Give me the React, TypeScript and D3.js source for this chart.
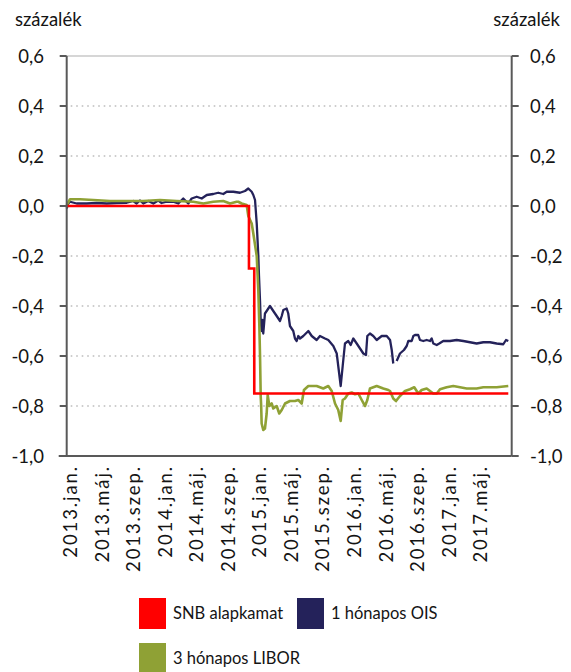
import React from "react";
import * as d3 from "d3";

const W = 571;
const H = 672;

// decimal year, value (percent)
const snbRate: [number, number][] = [
  [2012.96, 0], [2014.885, 0], [2014.885, -0.25], [2014.941, -0.25], [2014.941, -0.75], [2017.624, -0.75],
];

const ois1m: [number, number | null][] = [
  [2012.96, -0.01], [2012.977, 0.01], [2012.995, 0.017], [2013.065, 0.01], [2013.171, 0.01], [2013.277, 0.012],
  [2013.382, 0.01], [2013.488, 0.012], [2013.594, 0.013], [2013.663, 0.02], [2013.699, 0.01], [2013.734, 0.022],
  [2013.769, 0.01], [2013.822, 0.02], [2013.875, 0.01], [2013.927, 0.022], [2013.963, 0.012], [2014.016, 0.017],
  [2014.086, 0.017], [2014.139, 0.01], [2014.191, 0.03], [2014.244, 0.01], [2014.28, 0.03], [2014.333, 0.037],
  [2014.386, 0.03], [2014.439, 0.044], [2014.508, 0.048], [2014.561, 0.053], [2014.614, 0.048], [2014.65, 0.057],
  [2014.72, 0.057], [2014.79, 0.053], [2014.843, 0.06], [2014.878, 0.07], [2014.914, 0.057], [2014.931, 0.044],
  [2014.949, 0.024], [2014.967, -0.07], [2014.984, -0.2], [2014.991, -0.28], [2015.002, -0.38], [2015.009, -0.46],
  [2015.019, -0.5], [2015.026, -0.456], [2015.036, -0.51], [2015.054, -0.43], [2015.072, -0.42], [2015.107, -0.4],
  [2015.142, -0.42], [2015.178, -0.44], [2015.213, -0.46], [2015.231, -0.44], [2015.248, -0.416], [2015.283, -0.41],
  [2015.3, -0.43], [2015.318, -0.48], [2015.353, -0.5], [2015.371, -0.53], [2015.389, -0.54], [2015.406, -0.52],
  [2015.424, -0.53], [2015.459, -0.52], [2015.512, -0.5], [2015.548, -0.52], [2015.6, -0.536], [2015.635, -0.52],
  [2015.688, -0.53], [2015.723, -0.536], [2015.776, -0.56], [2015.812, -0.59], [2015.828, -0.64], [2015.854, -0.72],
  [2015.875, -0.64], [2015.899, -0.55], [2015.934, -0.54], [2015.959, -0.556], [2015.987, -0.53], [2016.023, -0.55],
  [2016.058, -0.57], [2016.093, -0.59], [2016.121, -0.596], [2016.135, -0.52], [2016.163, -0.51], [2016.198, -0.52],
  [2016.234, -0.536], [2016.287, -0.52], [2016.34, -0.52], [2016.375, -0.536], [2016.393, -0.576], [2016.409, -0.63],
  [2016.427, null],
  [2016.445, -0.62], [2016.48, -0.59], [2016.522, -0.576], [2016.551, -0.56], [2016.568, -0.54], [2016.604, -0.54],
  [2016.621, -0.52], [2016.639, -0.516], [2016.673, -0.516], [2016.691, -0.536], [2016.726, -0.54], [2016.762, -0.536],
  [2016.797, -0.54], [2016.815, -0.53], [2016.832, -0.55], [2016.868, -0.556], [2016.895, -0.55], [2016.937, -0.54],
  [2017.008, -0.54], [2017.079, -0.536], [2017.149, -0.54], [2017.22, -0.545], [2017.29, -0.55], [2017.36, -0.545],
  [2017.431, -0.545], [2017.501, -0.55], [2017.571, -0.553], [2017.6, -0.536], [2017.624, -0.54],
];

const libor3m: [number, number][] = [
  [2012.96, 0.004], [2012.995, 0.027], [2013.1, 0.027], [2013.241, 0.024], [2013.417, 0.02], [2013.594, 0.02],
  [2013.766, 0.02], [2013.945, 0.024], [2014.122, 0.02], [2014.297, 0.017], [2014.403, 0.01], [2014.508, 0.017],
  [2014.614, 0.02], [2014.685, 0.01], [2014.755, 0.017], [2014.772, 0.017], [2014.808, 0.01], [2014.861, 0.004],
  [2014.878, -0.04], [2014.914, -0.07], [2014.931, -0.11], [2014.967, -0.2], [2014.984, -0.34], [2014.994, -0.47],
  [2015.002, -0.6], [2015.009, -0.76], [2015.014, -0.8], [2015.019, -0.87], [2015.036, -0.896], [2015.054, -0.89],
  [2015.072, -0.83], [2015.083, -0.756], [2015.1, -0.8], [2015.125, -0.79], [2015.142, -0.81], [2015.178, -0.8],
  [2015.205, -0.83], [2015.231, -0.816], [2015.266, -0.79], [2015.318, -0.78], [2015.371, -0.78], [2015.406, -0.776],
  [2015.442, -0.79], [2015.466, -0.736], [2015.512, -0.72], [2015.6, -0.72], [2015.67, -0.73], [2015.723, -0.72],
  [2015.759, -0.74], [2015.794, -0.79], [2015.828, -0.816], [2015.854, -0.86], [2015.875, -0.776], [2015.899, -0.77],
  [2015.934, -0.75], [2015.97, -0.746], [2016.005, -0.753], [2016.04, -0.75], [2016.076, -0.776], [2016.111, -0.8],
  [2016.135, -0.776], [2016.163, -0.73], [2016.234, -0.72], [2016.304, -0.73], [2016.357, -0.736], [2016.375, -0.74],
  [2016.409, -0.77], [2016.438, -0.78], [2016.48, -0.76], [2016.533, -0.74], [2016.586, -0.733], [2016.631, -0.725],
  [2016.673, -0.75], [2016.709, -0.736], [2016.762, -0.73], [2016.832, -0.75], [2016.868, -0.75], [2016.903, -0.733],
  [2016.973, -0.725], [2017.043, -0.72], [2017.114, -0.725], [2017.185, -0.73], [2017.29, -0.73], [2017.36, -0.725],
  [2017.431, -0.725], [2017.501, -0.725], [2017.624, -0.72],
];

const yTicks = [0.6, 0.4, 0.2, 0.0, -0.2, -0.4, -0.6, -0.8, -1.0];
const xTickLabels = [
  "2013.jan.", "2013.máj.", "2013.szep.", "2014.jan.", "2014.máj.", "2014.szep.", "2015.jan.",
  "2015.máj.", "2015.szep.", "2016.jan.", "2016.máj.", "2016.szep.", "2017.jan.", "2017.máj.",
];
const xTickYears = [
  2013, 2013.3333, 2013.6667, 2014, 2014.3333, 2014.6667, 2015,
  2015.3333, 2015.6667, 2016, 2016.3333, 2016.6667, 2017, 2017.3333,
];

const legendItems = [
  { label: "SNB alapkamat", color: "#ff0000" },
  { label: "1 hónapos OIS", color: "#24225a" },
  { label: "3 hónapos LIBOR", color: "#8fa135" },
];

const FONT = "Lato, 'Open Sans', sans-serif";
const AXIS = "#595959";
const TXT = "#141414";

export default function App() {
  const left = 66.7;
  const right = 511.7;
  const top = 56;
  const bottom = 456;

  const x = d3.scaleLinear().domain([2012.96, 2017.66]).range([left, right]);
  const y = d3.scaleLinear().domain([-1, 0.6]).range([bottom, top]);

  const line = d3
    .line<[number, number | null]>()
    .defined((d) => d[1] !== null)
    .x((d) => x(d[0]))
    .y((d) => y(d[1] as number));

  const fmt = (v: number) => v.toFixed(1).replace(".", ",").replace("-0,0", "0,0");

  return (
    <svg
      width={W}
      height={H}
      style={{ position: "absolute", left: 0, top: 0, background: "#fff" }}
      fontFamily={FONT}
    >
      {/* gridlines */}
      {yTicks.map((t) =>
        t === 0.6 ? (
          <line key={t} x1={left} x2={right} y1={y(t)} y2={y(t)} stroke="#c8c8c8" strokeWidth={1.5} />
        ) : t === -1.0 ? null : (
          <line
            key={t}
            x1={left + 4}
            x2={right}
            y1={y(t)}
            y2={y(t)}
            stroke="#bdbdbd"
            strokeWidth={1.6}
            strokeDasharray="1.6,3.9"
          />
        )
      )}

      {/* series */}
      <path d={line(ois1m) || ""} fill="none" stroke="#24225a" strokeWidth={2.3} strokeLinejoin="round" />
      <path d={line(libor3m as any) || ""} fill="none" stroke="#8fa135" strokeWidth={2.6} strokeLinejoin="round" />
      <path d={line(snbRate as any) || ""} fill="none" stroke="#ff0000" strokeWidth={2.6} />

      {/* axes */}
      <line x1={left} x2={left} y1={top} y2={bottom} stroke={AXIS} strokeWidth={2} />
      <line x1={right} x2={right} y1={top} y2={bottom} stroke={AXIS} strokeWidth={2} />
      <line x1={left - 8} x2={right} y1={bottom} y2={bottom} stroke={AXIS} strokeWidth={2} />
      {yTicks.map((t) => (
        <g key={"tk" + t}>
          <line x1={left - 7} x2={left} y1={y(t)} y2={y(t)} stroke={AXIS} strokeWidth={2} />
          <line x1={right} x2={right + 7} y1={y(t)} y2={y(t)} stroke={AXIS} strokeWidth={2} />
          <text x={44} y={y(t)} dy="0.36em" textAnchor="end" fontSize={18.5} fill={TXT}>
            {fmt(t)}
          </text>
          <text x={530} y={y(t)} dy="0.36em" textAnchor="start" fontSize={18.5} fill={TXT}>
            {fmt(t)}
          </text>
        </g>
      ))}

      {/* x labels */}
      {xTickLabels.map((lab, i) => {
        const px = x(xTickYears[i]);
        return (
          <text
            key={lab}
            transform={`translate(${px + 6.5},${bottom + 9}) rotate(-90)`}
            textAnchor="end"
            fontSize={18.5}
            letterSpacing={1.9}
            fill={TXT}
          >
            {lab}
          </text>
        );
      })}

      {/* unit labels */}
      <text x={15} y={26} fontSize={18.5} fill={TXT}>
        százalék
      </text>
      <text x={560} y={26} fontSize={18.5} textAnchor="end" fill={TXT}>
        százalék
      </text>

      {/* legend */}
      {legendItems.map((it, i) => {
        const lx = i === 1 ? 297 : 139;
        const ly = i === 2 ? 643 : 598;
        return (
          <g key={it.label}>
            <rect x={lx} y={ly} width={27} height={31} fill={it.color} />
            <text x={lx + 34} y={ly + 15.5} dy="0.36em" fontSize={16.5} fill={TXT}>
              {it.label}
            </text>
          </g>
        );
      })}
    </svg>
  );
}
